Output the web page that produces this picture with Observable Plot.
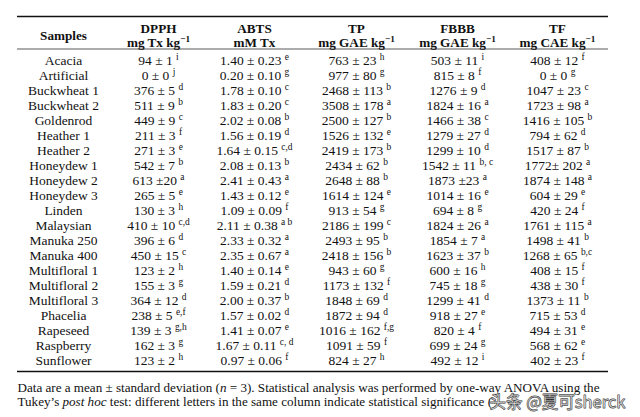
<!DOCTYPE html>
<html>
<head>
<meta charset="utf-8">
<script src="https://cdn.jsdelivr.net/npm/d3@7"></script>
<script src="https://cdn.jsdelivr.net/npm/@observablehq/plot@0.6"></script>
<style>
  html, body { margin: 0; padding: 0; background: #fff; }
  svg { display: block; }
</style>
</head>
<body>
<div id="chart"></div>
<script>
// ---------- data ----------
const samples = ["Acacia","Artificial","Buckwheat 1","Buckwheat 2","Goldenrod","Heather 1","Heather 2","Honeydew 1","Honeydew 2","Honeydew 3","Linden","Malaysian","Manuka 250","Manuka 400","Multifloral 1","Multifloral 2","Multifloral 3","Phacelia","Rapeseed","Raspberry","Sunflower"];

const columns = ["Samples","DPPH","ABTS","TP","FBBB","TF"];
const units = ["", "mg Tx kg^{−1}", "mM Tx", "mg GAE kg^{−1}", "mg GAE kg^{−1}", "mg CAE kg^{−1}"];

const dpph = ["94 ± 1","0 ± 0","376 ± 5","511 ± 9","449 ± 9","211 ± 3","271 ± 3","542 ± 7","613 ±20","265 ± 5","130 ± 3","410 ± 10","396 ± 6","450 ± 15","123 ± 2","155 ± 3","364 ± 12","238 ± 5","139 ± 3","162 ± 3","123 ± 2"];
const dpphSig = ["i","j","d","b","c","f","e","b","a","e","h","c,d","d","c","h","g","d","e,f","g,h","g","h"];

const abts = ["1.40 ± 0.23","0.20 ± 0.10","1.78 ± 0.10","1.83 ± 0.20","2.02 ± 0.08","1.56 ± 0.19","1.64 ± 0.15","2.08 ± 0.13","2.41 ± 0.43","1.43 ± 0.12","1.09 ± 0.09","2.11 ± 0.38","2.33 ± 0.32","2.35 ± 0.67","1.40 ± 0.14","1.59 ± 0.21","2.00 ± 0.37","1.57 ± 0.02","1.41 ± 0.07","1.67 ± 0.11","0.97 ± 0.06"];
const abtsSig = ["e","g","c","c","b","d","c,d","b","a","e","f","a b","a","a","e","d","b","d","e","c, d","f"];

const tp = ["763 ± 23","977 ± 80","2468 ± 113","3508 ± 178","2500 ± 127","1526 ± 132","2419 ± 173","2434 ± 62","2648 ± 88","1614 ± 124","913 ± 54","2186 ± 199","2493 ± 95","2418 ± 156","943 ± 60","1173 ± 132","1848 ± 69","1872 ± 94","1016 ± 162","1091 ± 59","824 ± 27"];
const tpSig = ["h","g","b","a","b","e","b","b","b","e","g","c","b","b","g","f","d","d","f,g","f","h"];

const fbbb = ["503 ± 11","815 ± 8","1276 ± 9","1824 ± 16","1466 ± 38","1279 ± 27","1299 ± 10","1542 ± 11","1873 ±23","1014 ± 16","694 ± 8","1824 ± 26","1854 ± 7","1623 ± 37","600 ± 16","745 ± 18","1299 ± 41","918 ± 27","820 ± 4","699 ± 24","492 ± 12"];
const fbbbSig = ["i","f","d","a","c","d","d","b, c","a","e","g","a","a","b","h","g","d","e","f","g","i"];

const tf = ["408 ± 12","0 ± 0","1047 ± 23","1723 ± 98","1416 ± 105","794 ± 62","1517 ± 87","1772± 202","1874 ± 148","604 ± 29","420 ± 24","1761 ± 115","1498 ± 41","1268 ± 65","408 ± 15","438 ± 30","1373 ± 11","715 ± 53","494 ± 31","568 ± 62","402 ± 23"];
const tfSig = ["f","g","c","a","b","d","b","a","a","e","f","a","b","b,c","f","f","b","d","e","e","f"];

const footnote1 = "Data are a mean ± standard deviation (_n_ = 3). Statistical analysis was performed by one-way ANOVA using the";
const footnote2 = "Tukey’s _post hoc_ test: different letters in the same column indicate statistical significance (";
const watermark = "头条 @夏可sherck";

// ---------- layout (not data) ----------
const layout = {
  colX: {Samples: 63, DPPH: 158, ABTS: 254, TP: 356, FBBB: 457, TF: 557},
  ruleX: [17, 608],
  watermarkX: 489
};

// table built from the arrays
const valueCols = {DPPH: [dpph, dpphSig], ABTS: [abts, abtsSig], TP: [tp, tpSig], FBBB: [fbbb, fbbbSig], TF: [tf, tfSig]};
const cells = [];
samples.forEach((s, i) => {
  cells.push({col: "Samples", sample: s, text: s});
  for (const [c, [vals, sig]] of Object.entries(valueCols)) {
    cells.push({col: c, sample: s, text: `${vals[i]} ^{${sig[i]}}`});
  }
});
const headers = columns.map((c, i) => ({col: c, name: c, unit: units[i]}));

const ink = "#111";
const first = samples[0], last = samples[samples.length - 1];

const chart = Plot.plot({
  width: 640,
  height: 417,
  margin: 0,
  style: {fontFamily: "'Liberation Serif', serif", background: "#fff", color: ink},
  x: {type: "linear", domain: [0, 640], range: [0, 640], axis: null},
  y: {type: "point", domain: samples, range: [57, 362], padding: 0, axis: null},
  marks: [
    // rules
    Plot.ruleY([first], {y: d => d, x1: layout.ruleX[0], x2: layout.ruleX[1], dy: -44, stroke: ink, strokeWidth: 1.4}),
    Plot.ruleY([first], {y: d => d, x1: layout.ruleX[0], x2: layout.ruleX[1], dy: -11.5, stroke: ink, strokeWidth: 0.7}),
    Plot.ruleY([last], {y: d => d, x1: layout.ruleX[0], x2: layout.ruleX[1], dy: 11, stroke: ink, strokeWidth: 1.4}),
    // header
    Plot.text(headers.filter(d => d.unit), {x: d => layout.colX[d.col], frameAnchor: "top", dy: 23, text: "name", fontWeight: "bold", fontSize: 13.2, fill: ink}),
    Plot.text(headers.filter(d => d.unit), {x: d => layout.colX[d.col], frameAnchor: "top", dy: 37, text: "unit", fontWeight: "bold", fontSize: 13.2, fill: ink}),
    Plot.text(headers.filter(d => !d.unit), {x: d => layout.colX[d.col], frameAnchor: "top", dy: 30, text: "name", fontWeight: "bold", fontSize: 13.2, fill: ink}),
    // body
    Plot.text(cells, {x: d => layout.colX[d.col], y: "sample", text: "text", fontSize: 13.5, fill: ink}),
    // footnote
    Plot.text([footnote1], {x: layout.ruleX[0], frameAnchor: "top", dy: 382, text: d => d, textAnchor: "start", fontSize: 13.1, fill: ink}),
    Plot.text([footnote2], {x: layout.ruleX[0], frameAnchor: "top", dy: 396, text: d => d, textAnchor: "start", fontSize: 13.1, fill: ink}),
    // watermark
    Plot.text([watermark], {x: layout.watermarkX, frameAnchor: "top", dy: 396, text: d => d, textAnchor: "start", fontSize: 16.5, fontFamily: "'Noto Sans CJK SC', sans-serif", fill: "#fff", fillOpacity: 0.55, stroke: "#333", strokeWidth: 0.9})
  ]
});

// rich text: ^{sup} and _italic_
const NS = "http://www.w3.org/2000/svg";
chart.querySelectorAll("text").forEach(t => {
  const s = t.textContent;
  if (!/\^\{|_/.test(s)) return;
  const parts = s.split(/(\^\{[^}]*\}|_[^_]+_)/);
  t.textContent = "";
  for (const p of parts) {
    if (!p) continue;
    const ts = document.createElementNS(NS, "tspan");
    if (p.startsWith("^{")) {
      ts.textContent = p.slice(2, -1);
      ts.setAttribute("font-size", "0.7em");
      ts.setAttribute("dy", "-0.5em");
    } else if (p.startsWith("_")) {
      ts.textContent = p.slice(1, -1);
      ts.setAttribute("font-style", "italic");
    } else {
      ts.textContent = p;
    }
    t.appendChild(ts);
  }
});

document.getElementById("chart").appendChild(chart);
</script>
</body>
</html>
